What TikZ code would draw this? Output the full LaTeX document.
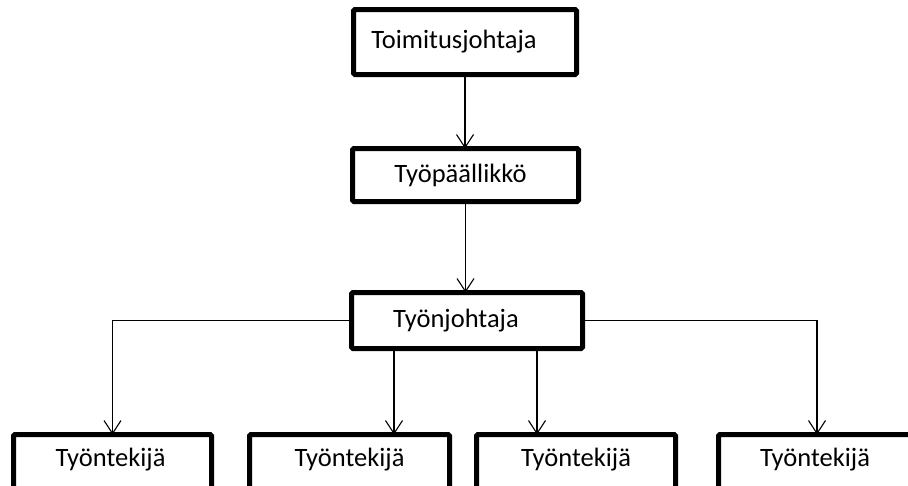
\documentclass[tikz,border=0pt]{standalone}
\usepackage{fontspec}
\setmainfont{Carlito}
\usetikzlibrary{arrows.meta}
\begin{document}
\begin{tikzpicture}[x=1pt,y=-1pt,
  box/.style={draw=black,line width=5pt,rounded corners=1.5pt,outer sep=0pt,inner sep=0pt,
    font=\fontsize{26.5}{30}\selectfont,fill=white},
  workerbox/.style={box,anchor=north,minimum width=199pt,text height=32pt,text depth=70pt},
  conn/.style={line width=1.1pt,-{Straight Barb[length=13pt,width=17pt,line width=1.1pt]}},
  plain/.style={line width=1.1pt}]
\clip (0,0) rectangle (908,485);
\fill[white] (0,0) rectangle (908,485);
\node[box,minimum width=223pt,minimum height=65pt] (top) at (465,42) {Toimitusjohtaja\kern22pt};
\node[box,minimum width=226pt,minimum height=53pt] (mid) at (465.5,175) {Työpäällikkö\kern10pt};
\node[box,minimum width=231pt,minimum height=56pt] (tj) at (467,320.5) {Työnjohtaja\kern22pt};
\node[workerbox,minimum width=198pt] (w1) at (112.5,434.5) {Työntekijä\kern4pt};
\node[workerbox,minimum width=200pt] (w2) at (349.5,434.5) {Työntekijä};
\node[workerbox,minimum width=199pt] (w3) at (576,434.5) {Työntekijä};
\node[workerbox,minimum width=197pt] (w4) at (817,434.5) {Työntekijä\kern4pt};
\coordinate (a2) at (394,0);
\coordinate (a3) at (537,0);
\draw[conn] (top.south) -- (top.south |- mid.north);
\draw[conn] (mid.south) -- (mid.south |- tj.north);
\draw[conn] (tj.west) -| (w1.north);
\draw[conn] (tj.east) -| (w4.north);
\draw[conn] (tj.south -| a2) -- (w2.north -| a2);
\draw[conn] (tj.south -| a3) -- (w3.north -| a3);
\end{tikzpicture}
\end{document}
